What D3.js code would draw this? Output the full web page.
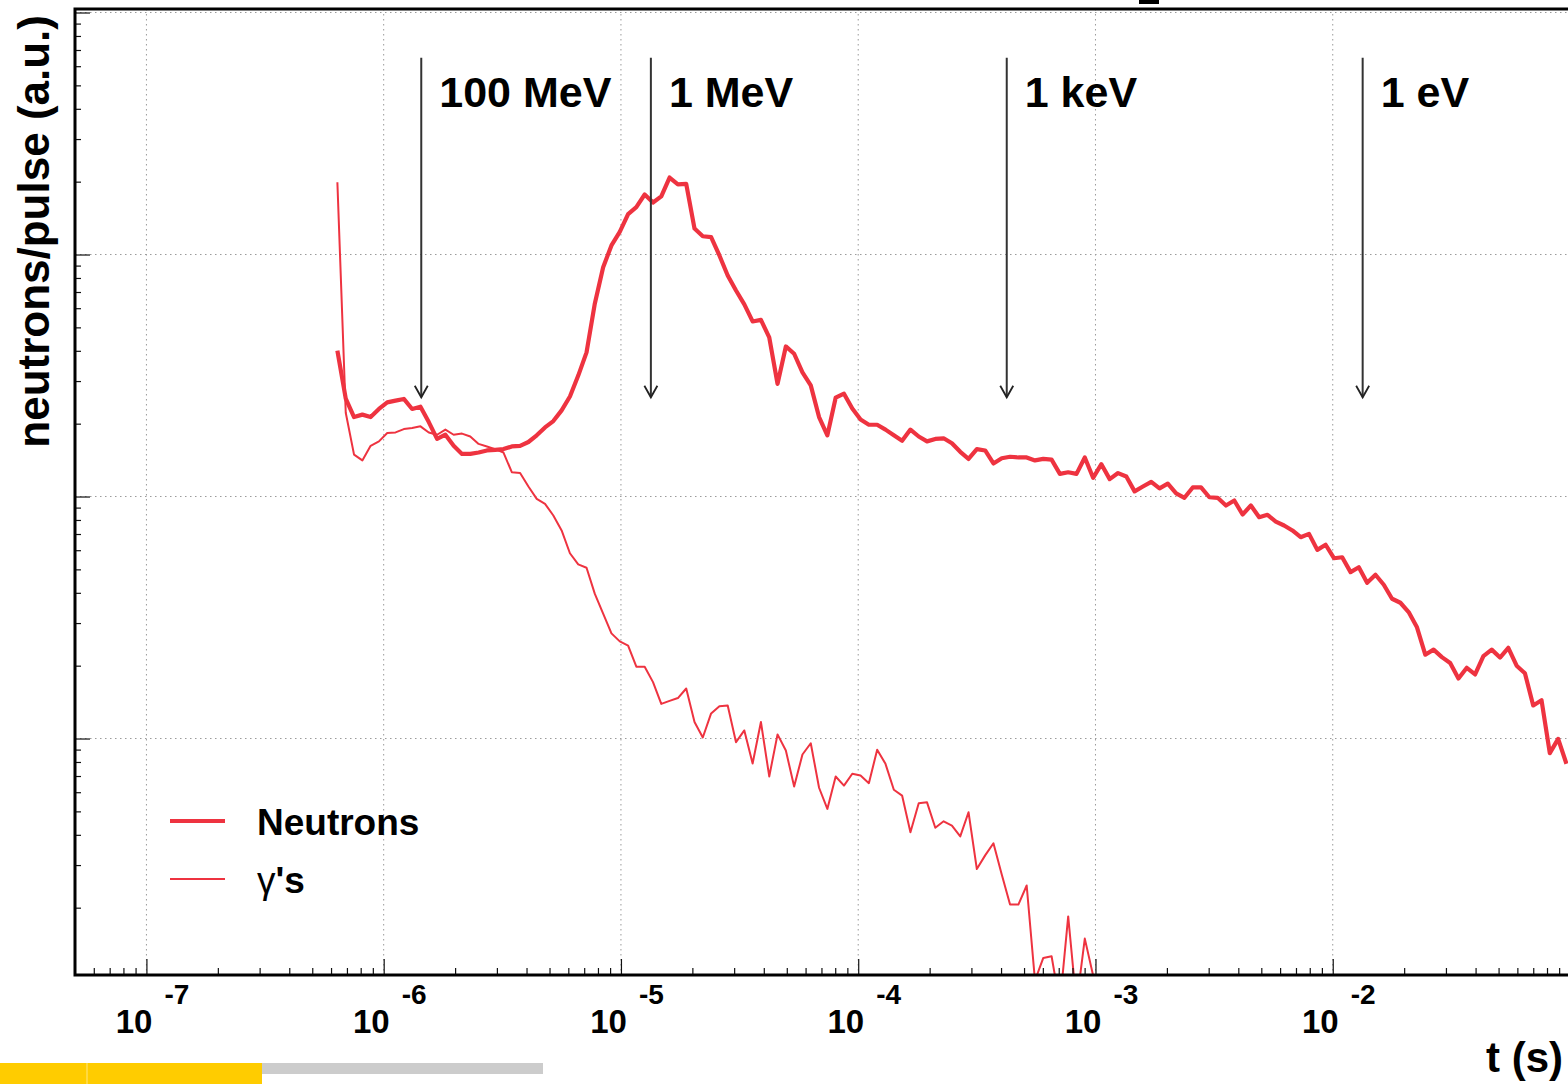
<!DOCTYPE html>
<html><head><meta charset="utf-8">
<script src="https://cdn.jsdelivr.net/npm/d3@7"></script>
<style>body{margin:0;background:#fff}svg{display:block}</style>
</head><body>
<svg id="chart" width="1568" height="1084"></svg>
<script>
// ---- data ----
const tBins = [6.38e-7,6.92e-7,7.50e-7,8.13e-7,8.81e-7,9.55e-7,1.035e-6,1.122e-6,1.216e-6,1.318e-6,
1.429e-6,1.549e-6,1.679e-6,1.820e-6,1.972e-6,2.138e-6,2.317e-6,2.512e-6,2.723e-6,2.951e-6,
3.199e-6,3.467e-6,3.758e-6,4.074e-6,4.416e-6,4.786e-6,5.188e-6,5.623e-6,6.095e-6,6.607e-6,
7.161e-6,7.762e-6,8.414e-6,9.120e-6,9.886e-6,1.072e-5,1.161e-5,1.259e-5,1.365e-5,1.479e-5,
1.603e-5,1.738e-5,1.884e-5,2.042e-5,2.213e-5,2.399e-5,2.600e-5,2.818e-5,3.055e-5,3.311e-5,
3.589e-5,3.890e-5,4.217e-5,4.571e-5,4.955e-5,5.370e-5,5.821e-5,6.310e-5,6.839e-5,7.413e-5,
8.035e-5,8.710e-5,9.441e-5,1.023e-4,1.109e-4,1.202e-4,1.303e-4,1.413e-4,1.531e-4,1.660e-4,
1.799e-4,1.950e-4,2.113e-4,2.291e-4,2.483e-4,2.692e-4,2.917e-4,3.162e-4,3.428e-4,3.715e-4,
4.027e-4,4.365e-4,4.732e-4,5.129e-4,5.559e-4,6.026e-4,6.531e-4,7.079e-4,7.674e-4,8.318e-4,
9.016e-4,9.772e-4,1.059e-3,1.148e-3,1.245e-3,1.349e-3,1.462e-3,1.585e-3,1.718e-3,1.862e-3,
2.018e-3,2.188e-3,2.371e-3,2.570e-3,2.786e-3,3.020e-3,3.273e-3,3.548e-3,3.846e-3,4.169e-3,
4.519e-3,4.898e-3,5.309e-3,5.754e-3,6.237e-3,6.761e-3,7.328e-3,7.943e-3,8.610e-3,9.333e-3,
1.012e-2,1.096e-2,1.189e-2,1.288e-2,1.396e-2,1.514e-2,1.641e-2,1.778e-2,1.928e-2,2.089e-2,
2.265e-2,2.455e-2,2.661e-2,2.884e-2,3.126e-2,3.388e-2,3.673e-2,3.981e-2,4.315e-2,4.677e-2,
5.070e-2,5.495e-2,5.957e-2,6.457e-2,6.998e-2,7.586e-2,8.222e-2,8.913e-2,9.661e-2];

const neutrons = [40.1,25.4,21.3,21.8,21.3,23.0,24.5,24.9,25.3,23.0,
23.5,20.3,17.3,18.0,16.2,15.0,15.0,15.2,15.5,15.6,
15.7,16.1,16.2,16.8,17.9,19.3,20.5,22.7,25.9,31.6,
39.4,62.8,88.6,109,124,147,157,177,164,174,
208,195,196,128,119,118,99.1,81.9,71.0,62.2,
52.9,53.7,45.5,29.2,41.7,38.9,32.6,28.8,21.3,17.9,
25.6,26.6,23.1,20.8,19.8,19.8,18.9,17.9,17.0,18.9,
17.7,16.9,17.3,17.4,16.6,15.3,14.3,15.7,15.5,13.7,
14.4,14.6,14.5,14.5,14.1,14.3,14.2,12.4,12.6,12.4,
14.5,11.95,13.6,11.8,12.5,12.1,10.5,11.0,11.5,10.8,
11.3,10.3,9.88,10.9,10.9,9.93,9.88,9.18,9.63,8.43,
9.18,8.21,8.40,7.88,7.59,7.24,6.79,7.01,6.02,6.32,
5.56,5.61,4.87,5.10,4.40,4.75,4.32,3.78,3.64,3.33,
2.88,2.22,2.33,2.17,2.05,1.77,1.96,1.84,2.19,2.33,
2.16,2.37,2.00,1.86,1.37,1.44,0.870,0.997,0.786];

const gammas = [199,22.2,14.9,14.1,16.2,16.9,18.3,18.4,19.0,19.2,
19.5,18.4,18.0,18.9,18.0,18.2,17.7,16.5,16.1,15.7,
15.2,12.6,12.5,11.0,9.78,9.33,8.35,7.24,5.83,5.24,
5.08,3.96,3.28,2.72,2.52,2.42,1.98,1.98,1.71,1.39,
1.43,1.47,1.61,1.17,1.01,1.27,1.36,1.37,0.966,1.08,
0.788,1.17,0.697,1.04,0.892,0.633,0.859,0.956,0.626,0.512,
0.697,0.639,0.715,0.703,0.654,0.898,0.786,0.614,0.581,0.410,
0.540,0.545,0.428,0.455,0.437,0.394,0.496,0.289,0.329,0.369,
0.274,0.206,0.206,0.247,0.1,0.124,0.126,0,0.184,0,
0.149,0.105,0.105];

const xTickExponents = [-7,-6,-5,-4,-3,-2];
const arrowTimes = [1.44e-6, 1.337e-5, 4.227e-4, 1.337e-2];
const arrowLabels = ["100 MeV","1 MeV","1 keV","1 eV"];
const arrowTop = 650, arrowTip = 25.7;
const legendLabels = ["Neutrons","γ's"];
const xTitle = "t (s)";
const yTitle = "neutrons/pulse (a.u.)";

// ---- layout ----
const L = 75, R = 1570, T = 9, B = 975;
const RED = "#ee3340";
const svg = d3.select("#chart");
const x = d3.scaleLog().domain([5e-8, 0.1]).range([L, R]);
const y = d3.scaleLog().domain([0.1054, 1034]).range([B, T]);
const yFloor = 0.08; // empty bins are drawn below the frame (clipped)

svg.append("defs").append("clipPath").attr("id","plot")
  .append("rect").attr("x",L).attr("y",T).attr("width",R-L).attr("height",B-T);

// grid
const grid = svg.append("g").attr("stroke","#9a9a9a").attr("stroke-width",1).attr("stroke-dasharray","1.5,3.5");
xTickExponents.forEach(e=>{
  grid.append("line").attr("x1",x(10**e)).attr("x2",x(10**e)).attr("y1",T).attr("y2",B);
});
[1,10,100,1000].forEach(v=>{
  grid.append("line").attr("x1",L).attr("x2",R).attr("y1",y(v)).attr("y2",y(v));
});

// curves
const ptsN = neutrons.map((v,i)=>({t:tBins[i], v}));
const ptsG = gammas.map((v,i)=>({t:tBins[i], v}));
const line = d3.line().x(d=>x(d.t)).y(d=>y(Math.max(d.v, yFloor)));
const curves = svg.append("g").attr("clip-path","url(#plot)").attr("fill","none")
  .attr("stroke",RED).attr("stroke-linejoin","round");
curves.append("path").attr("d",line(ptsG)).attr("stroke-width",2);
curves.append("path").attr("d",line(ptsN)).attr("stroke-width",4.2);

// arrows + labels
const arr = svg.append("g");
arrowTimes.forEach((t,i)=>{
  const ax = x(t), y0 = y(arrowTop), y1 = y(arrowTip);
  arr.append("line").attr("x1",ax).attr("x2",ax).attr("y1",y0).attr("y2",y1)
     .attr("stroke","#333").attr("stroke-width",2);
  arr.append("path").attr("d",`M${ax-6.5},${y1-11.5}L${ax},${y1}L${ax+6.5},${y1-11.5}`)
     .attr("fill","none").attr("stroke","#222").attr("stroke-width",1.8);
  arr.append("text").attr("x",ax+18).attr("y",y0+49).text(arrowLabels[i])
     .attr("font-family","Liberation Sans, Arial, sans-serif").attr("font-weight","bold")
     .attr("font-size",43).attr("fill","#000");
});

// axes ticks
const minorX = [];
for (let d=-8; d<=-2; d++) for (let m=2; m<=9; m++){ const v=m*10**d; if (v>5e-8 && v<0.1) minorX.push(v); }
const majorX = xTickExponents.map(e=>10**e);
const minorY = [];
for (let d=-1; d<=2; d++) for (let m=2; m<=9; m++){ const v=m*10**d; if (v>0.1054 && v<1034) minorY.push(v); }
const majorY = [1,10,100,1000];

function styleAxis(g){ g.select(".domain").remove(); g.selectAll("line").attr("stroke","#111").attr("stroke-width",1.2); }
svg.append("g").attr("transform",`translate(0,${B})`)
  .call(d3.axisBottom(x).tickValues(minorX).tickSize(-7).tickFormat("")).call(styleAxis);
svg.append("g").attr("transform",`translate(0,${B})`)
  .call(d3.axisBottom(x).tickValues(majorX).tickSize(-16).tickFormat("")).call(styleAxis);
svg.append("g").attr("transform",`translate(${L},0)`)
  .call(d3.axisLeft(y).tickValues(minorY).tickSize(-6).tickFormat("")).call(styleAxis);
svg.append("g").attr("transform",`translate(${L},0)`)
  .call(d3.axisLeft(y).tickValues(majorY).tickSize(-15).tickFormat("")).call(styleAxis);

// frame
svg.append("rect").attr("x",L).attr("y",T).attr("width",R-L).attr("height",B-T)
  .attr("fill","none").attr("stroke","#000").attr("stroke-width",3);
// small mark above the frame (cut-off title remnant)
svg.append("rect").attr("x",1139).attr("y",0).attr("width",20).attr("height",4).attr("fill","#000");

// x tick labels (10^n)
const lab = svg.append("g").attr("font-family","Liberation Sans, Arial, sans-serif")
  .attr("font-weight","bold").attr("fill","#000");
xTickExponents.forEach(e=>{
  const px = x(10**e);
  lab.append("text").attr("x",px+6).attr("y",1033).attr("text-anchor","end").attr("font-size",33).text("10");
  lab.append("text").attr("x",px+18).attr("y",1004).attr("font-size",28).text(String(e));
});

// axis titles
lab.append("text").attr("x",1563).attr("y",1072).attr("text-anchor","end").attr("font-size",42).text(xTitle);
lab.append("text").attr("transform","translate(49,15) rotate(-90)").attr("text-anchor","end")
  .attr("font-size",44).text(yTitle);

// legend
const leg = svg.append("g");
leg.append("line").attr("x1",170).attr("x2",225).attr("y1",821).attr("y2",821).attr("stroke",RED).attr("stroke-width",4.2);
leg.append("line").attr("x1",170).attr("x2",225).attr("y1",879).attr("y2",879).attr("stroke",RED).attr("stroke-width",2);
leg.append("text").attr("x",257).attr("y",835).attr("font-family","Liberation Sans, Arial, sans-serif")
  .attr("font-weight","bold").attr("font-size",37).text(legendLabels[0]);
const g2 = leg.append("text").attr("x",257).attr("y",893).attr("font-family","Liberation Sans, Arial, sans-serif")
  .attr("font-size",37);
g2.append("tspan").attr("font-weight","normal").text(legendLabels[1].slice(0,1));
g2.append("tspan").attr("font-weight","bold").text(legendLabels[1].slice(1));

// bottom decoration bar
svg.append("rect").attr("x",0).attr("y",1063).attr("width",262).attr("height",21).attr("fill","#ffcc00");
svg.append("rect").attr("x",86.5).attr("y",1063).attr("width",1).attr("height",21).attr("fill","#ffe680");
svg.append("rect").attr("x",262).attr("y",1063).attr("width",281).attr("height",11).attr("fill","#cccccc");
</script>
</body></html>
